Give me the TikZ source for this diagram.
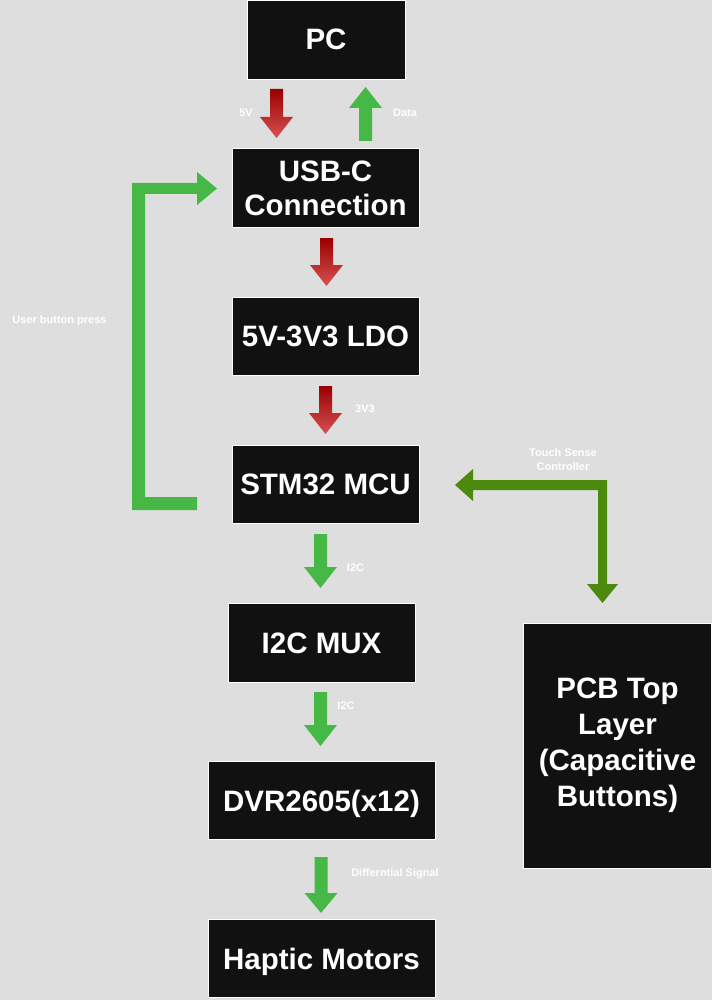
\documentclass[tikz,border=0pt]{standalone}
\usepackage{fontspec}
\setmainfont{Liberation Sans}
\definecolor{bg}{HTML}{DEDEDE}
\definecolor{boxfill}{HTML}{111111}
\definecolor{arrgreen}{HTML}{45B845}
\definecolor{darkgreen}{HTML}{4C8A0E}
\definecolor{redtop}{HTML}{9A0000}
\definecolor{redbot}{HTML}{D65050}
\tikzset{
  blk/.style={draw=white, line width=0.9pt, fill=boxfill, text=white,
    font=\fontsize{29.5}{34}\selectfont\bfseries, inner sep=0pt, align=center},
  oneline/.style={text height=21pt, text depth=0pt},
  lbl/.style={text=white, font=\fontsize{11}{14}\selectfont\bfseries, inner sep=0pt, align=center},
  greenarrow/.style={fill=arrgreen, draw=none},
  redarrow/.style={top color=redtop, bottom color=redbot, draw=none},
  dgarrow/.style={fill=darkgreen, draw=none}
}
% down arrow: #1 style, #2 cx, #3 top, #4 head base, #5 tip
\newcommand{\dnarrow}[5]{%
  \path[#1] (#2-6.5,#3) -- (#2+6.5,#3) -- (#2+6.5,#4) -- (#2+16.5,#4) -- (#2,#5)
    -- (#2-16.5,#4) -- (#2-6.5,#4) -- cycle;}
\begin{document}
\begin{tikzpicture}[x=1pt,y=-1pt]
\useasboundingbox (0,0) rectangle (712,1000);
\fill[bg] (0,0) rectangle (712,1000);

% boxes
\node[blk, oneline, minimum width=158pt, minimum height=79pt] (pc) at (326,39.5) {PC};
\node[blk, minimum width=187pt, minimum height=79pt] (usb) at (325.5,188) {USB-C\\Connection};
\node[blk, oneline, minimum width=187pt, minimum height=78pt] (ldo) at (325.5,336) {5V-3V3 LDO};
\node[blk, oneline, minimum width=187pt, minimum height=78pt] (mcu) at (325.5,484) {STM32 MCU};
\node[blk, oneline, minimum width=187pt, minimum height=79pt] (mux) at (321.5,642.5) {I2C MUX};
\node[blk, oneline, minimum width=227pt, minimum height=78pt] (dvr) at (321.5,800.5) {DVR2605(x12)};
\node[blk, oneline, minimum width=227pt, minimum height=78pt] (hap) at (321.5,958.5) {Haptic Motors};
\node[blk, font=\fontsize{29.5}{36}\selectfont\bfseries, minimum width=188pt, minimum height=245pt] (pcb) at (617.5,745.5) {PCB Top\\Layer\\(Capacitive\\Buttons)};

% vertical block arrows
\dnarrow{redarrow}{276.5}{89}{117}{138}
\path[greenarrow] (359,141) -- (372,141) -- (372,108) -- (382,108) -- (365.5,87)
  -- (349,108) -- (359,108) -- cycle;
\dnarrow{redarrow}{326.5}{238}{265}{286}
\dnarrow{redarrow}{325.5}{386}{413}{434}
\dnarrow{greenarrow}{320.5}{534}{567}{588}
\dnarrow{greenarrow}{320.5}{692}{725}{746}
\dnarrow{greenarrow}{321}{857}{893}{913}

% user button loop arrow
\path[greenarrow] (132,183) -- (197,183) -- (197,172) -- (217,188.5) -- (197,205)
  -- (197,194) -- (145,194) -- (145,497) -- (197,497) -- (197,510) -- (132,510) -- cycle;

% touch sense arrow
\path[dgarrow] (455,485) -- (473,469) -- (473,480) -- (607,480) -- (607,584)
  -- (618,584) -- (602.5,603) -- (587,584) -- (598,584) -- (598,490)
  -- (473,490) -- (473,501) -- cycle;

% labels
\node[lbl] (l5v) at (246,113) {5V};
\node[lbl] (ldata) at (405,113) {Data};
\node[lbl] (l3v3) at (365,409) {3V3};
\node[lbl] (li2ca) at (355.5,568) {I2C};
\node[lbl] (li2cb) at (346,706) {I2C};
\node[lbl] (ldiff) at (395,874) {Differntial Signal};
\node[lbl] (ltouch) at (563,460) {Touch Sense\\Controller};
\node[lbl] (luser) at (59.5,321) {User button press};
\end{tikzpicture}
\end{document}
